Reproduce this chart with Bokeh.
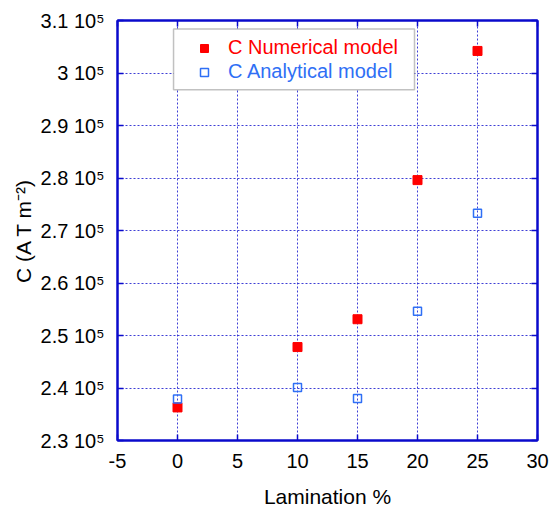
from bokeh.plotting import figure
from bokeh.models import (Range1d, LinearAxis, FixedTicker, Legend, LegendItem,
                          BoxAnnotation, CustomJSTickFormatter)
from bokeh.embed import file_html
from bokeh.resources import INLINE

# Lamination percentage and the two C estimates
lamination = [0, 10, 15, 20, 25]
c_numerical = [2.363e5, 2.478e5, 2.531e5, 2.796e5, 3.042e5]
c_analytical = [2.379e5, 2.401e5, 2.380e5, 2.546e5, 2.733e5]

x_ticks = [-5, 0, 5, 10, 15, 20, 25, 30]
x_tick_labels = ["-5", "0", "5", "10", "15", "20", "25", "30"]
y_ticks = [2.3e5, 2.4e5, 2.5e5, 2.6e5, 2.7e5, 2.8e5, 2.9e5, 3.0e5, 3.1e5]
y_tick_labels = ["2.3 10⁵", "2.4 10⁵", "2.5 10⁵", "2.6 10⁵", "2.7 10⁵",
                 "2.8 10⁵", "2.9 10⁵", "3 10⁵", "3.1 10⁵"]

FONT = "Liberation Sans"
AXIS_BLUE = "#0a0acc"
RED = "#ff0000"
BLUE = "#2f6ff5"

p = figure(frame_width=420, frame_height=420,
           x_range=Range1d(-5, 30), y_range=Range1d(2.3e5, 3.1e5),
           output_backend="svg", toolbar_location=None,
           min_border_left=117, min_border_right=13,
           min_border_top=20, min_border_bottom=75,
           background_fill_color="white", border_fill_color="white")
p.outline_line_color = AXIS_BLUE
p.outline_line_width = 2

# main axes
p.xaxis.ticker = FixedTicker(ticks=x_ticks)
p.yaxis.ticker = FixedTicker(ticks=y_ticks)
p.xaxis.major_label_overrides = {v: s for v, s in zip(x_ticks, x_tick_labels)}
p.yaxis.major_label_overrides = {v: s for v, s in zip(y_ticks, y_tick_labels)}
p.xaxis.axis_label = "Lamination %"
p.yaxis.axis_label = "C (A T m⁻²)"
for ax in (p.xaxis, p.yaxis):
    ax.axis_line_color = AXIS_BLUE
    ax.axis_line_width = 2
    ax.major_tick_line_color = AXIS_BLUE
    ax.major_tick_line_width = 1.5
    ax.major_tick_in = 6
    ax.major_tick_out = 0
    ax.minor_tick_line_color = None
    ax.major_label_text_font = FONT
    ax.major_label_text_font_size = "20px"
    ax.major_label_text_color = "black"
    ax.axis_label_text_font = FONT
    ax.axis_label_text_font_size = "21px"
    ax.axis_label_text_font_style = "normal"
    ax.axis_label_text_color = "black"
p.xaxis.major_label_standoff = 13
p.yaxis.major_label_standoff = 13
p.xaxis.axis_label_standoff = 14
p.yaxis.axis_label_standoff = 3

# tick-only axes on the top and right sides
blank = CustomJSTickFormatter(code="return ''")
top = LinearAxis(ticker=FixedTicker(ticks=x_ticks), formatter=blank)
right = LinearAxis(ticker=FixedTicker(ticks=y_ticks), formatter=blank)
for ax in (top, right):
    ax.axis_line_color = AXIS_BLUE
    ax.axis_line_width = 2
    ax.major_tick_line_color = AXIS_BLUE
    ax.major_tick_line_width = 1.5
    ax.major_tick_in = 6
    ax.major_tick_out = 0
    ax.minor_tick_line_color = None
    ax.major_label_standoff = 0
p.add_layout(top, "above")
p.add_layout(right, "right")

# dotted grid
for g in (p.xgrid, p.ygrid):
    g.grid_line_color = "#2a2ad2"
    g.grid_line_dash = "2 2"
    g.grid_line_width = 1
    g.grid_line_alpha = 0.9
p.xgrid.ticker = FixedTicker(ticks=x_ticks)
p.ygrid.ticker = FixedTicker(ticks=y_ticks)

r_num = p.scatter(lamination, c_numerical, marker="square", size=9,
                  fill_color=RED, line_color=RED)
r_ana = p.scatter(lamination, c_analytical, marker="square", size=8,
                  fill_color=None, line_color=BLUE, line_width=1.5)

# legend frame and the two coloured entries
frame = BoxAnnotation(left=-0.33, right=19.75, top=3.0838e5, bottom=2.968e5,
                      fill_color="white", fill_alpha=1.0,
                      line_color="#333333", line_width=1.5)
p.add_layout(frame)

leg_num = Legend(items=[LegendItem(label="C Numerical model", renderers=[r_num])],
                 location=(77, 381), label_text_color=RED)
leg_ana = Legend(items=[LegendItem(label="C Analytical model", renderers=[r_ana])],
                 location=(77, 357), label_text_color=BLUE)
for lg in (leg_num, leg_ana):
    lg.border_line_color = None
    lg.background_fill_alpha = 0
    lg.padding = 0
    lg.margin = 0
    lg.spacing = 0
    lg.glyph_width = 20
    lg.glyph_height = 20
    lg.label_standoff = 14
    lg.label_text_font = FONT
    lg.label_text_font_size = "20px"
    lg.label_height = 20
    p.add_layout(lg)

open("out.html", "w").write(file_html(p, INLINE))
